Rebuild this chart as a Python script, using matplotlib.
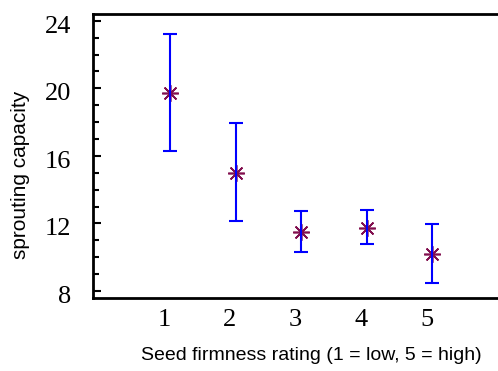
import matplotlib
matplotlib.use("Agg")
import matplotlib.pyplot as plt
import matplotlib.transforms as mtransforms
from matplotlib.ticker import MultipleLocator

ratings = [1, 2, 3, 4, 5]
means = [19.75, 14.96, 11.5, 11.72, 10.22]
upper = [23.23, 17.94, 12.71, 12.81, 11.96]
lower = [16.29, 12.16, 10.33, 10.77, 8.48]
yticks = [8, 12, 16, 20, 24]

W, H = 498, 371
fig = plt.figure(figsize=(W / 100, H / 100), dpi=100)
ax = fig.add_axes([93 / W, 73 / H, (498 - 93) / W, (298 - 14) / H])

err_lo = [m - l for m, l in zip(means, lower)]
err_hi = [u - m for m, u in zip(means, upper)]

ax.plot(ratings, means, linestyle='none', marker=(8, 2, 0), markersize=12,
        markeredgewidth=1.2, color='#82104F', zorder=2)
ax.errorbar(ratings, means, yerr=[err_lo, err_hi], fmt='none', ecolor='#0000FF',
            elinewidth=1.5, capsize=5, capthick=1.5, zorder=3)

ax.set_xlim(-0.18, 6.0)
ax.set_ylim(7.59, 24.4)
ax.set_xticks(ratings)
ax.set_yticks(yticks)
ax.yaxis.set_minor_locator(MultipleLocator(1))

serif = ['Liberation Serif', 'DejaVu Serif']
for lab in ax.get_xticklabels() + ax.get_yticklabels():
    lab.set_fontfamily(serif)
    lab.set_fontsize(19)

ax.tick_params(axis='x', length=0, pad=8)
ax.tick_params(axis='y', which='major', direction='in', length=6, width=1.5, pad=16)
ax.tick_params(axis='y', which='minor', direction='in', length=4, width=1.5)

xoff = mtransforms.ScaledTranslation(-6 / 100, 0, fig.dpi_scale_trans)
for lab in ax.get_xticklabels():
    lab.set_transform(lab.get_transform() + xoff)
yoff = mtransforms.ScaledTranslation(0, -3.5 / 100, fig.dpi_scale_trans)
for lab in ax.get_yticklabels():
    lab.set_transform(lab.get_transform() + yoff)

for s in ['left', 'top', 'bottom']:
    ax.spines[s].set_linewidth(2)
ax.spines['right'].set_visible(False)

fig.text(311.5 / W, 1 - 356 / H, 'Seed firmness rating (1 = low, 5 = high)',
         family=['Liberation Sans', 'DejaVu Sans'], fontsize=14,
         ha='center', va='center')
fig.text(21 / W, 1 - 175 / H, 'sprouting capacity', rotation=90,
         family=['Liberation Sans', 'DejaVu Sans'], fontsize=15,
         ha='center', va='center')

fig.savefig('out.png', dpi=100)
